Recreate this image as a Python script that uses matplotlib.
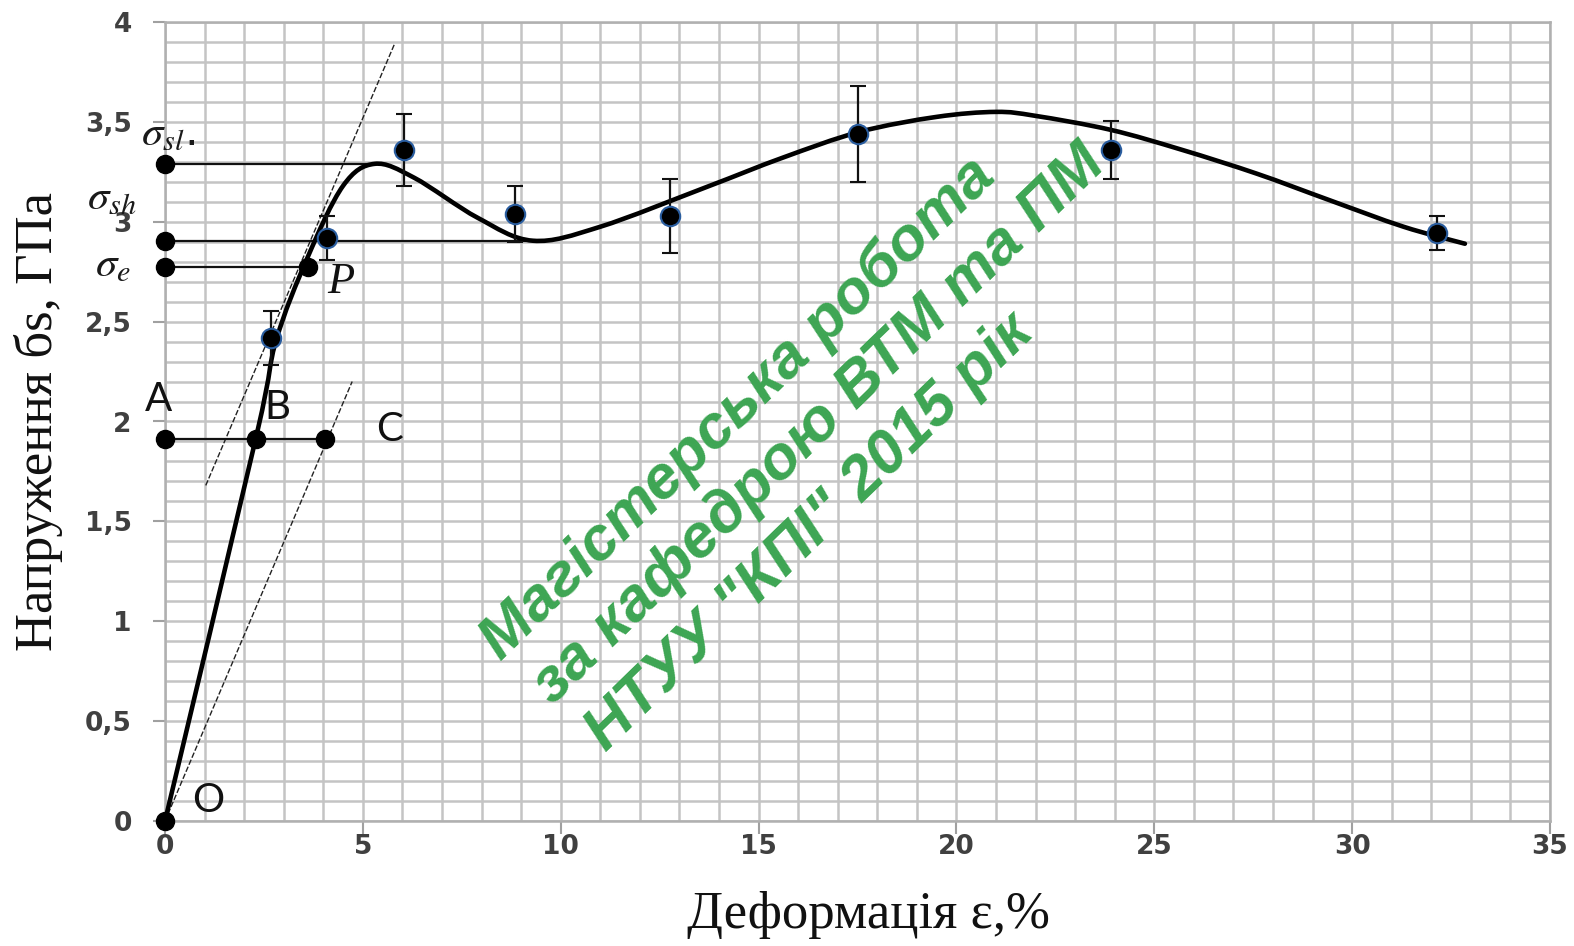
import matplotlib
matplotlib.use("Agg")
import matplotlib.pyplot as plt
from matplotlib.ticker import MultipleLocator, FuncFormatter
from matplotlib.path import Path
from matplotlib.patches import PathPatch

plt.rcParams['mathtext.fontset'] = 'stix'

# ---------------- data ----------------
# knots of the smoothed stress-strain curve
curve_x = [0, 2.3, 2.8, 3.6, 4.5, 5.3, 6.3, 7.9, 9.3, 11.0, 13.7, 15.6, 17.55,
           19.5, 21.0, 22.0, 23.9, 25.7, 27.6, 29.4, 31.3, 32.85]
curve_y = [0, 1.92, 2.4, 2.82, 3.18, 3.29, 3.22, 3.02, 2.905, 2.975, 3.175, 3.32,
           3.45, 3.525, 3.55, 3.53, 3.46, 3.36, 3.24, 3.11, 2.975, 2.89]

# experimental points with error bars
pts_x = [2.68, 4.1, 6.05, 8.85, 12.75, 17.5, 23.9, 32.15]
pts_y = [2.42, 2.92, 3.36, 3.04, 3.03, 3.44, 3.36, 2.945]
pts_err = [0.135, 0.11, 0.18, 0.14, 0.185, 0.24, 0.145, 0.085]

# characteristic stress levels
sigma_sl = 3.29
sigma_sh = 2.905
sigma_e = 2.775
sl_end_x = 5.3
sh_end_x = 9.1
P_x = 3.62
abc_y = 1.91
abc_x = [0, 2.3, 4.05]

# construction lines
tangent_x = [1.03, 5.8]
tangent_y = [1.68, 3.89]
offset_x = [0.0, 4.73]
offset_y = [0.0, 2.2]

xticks = [0, 5, 10, 15, 20, 25, 30, 35]
yticks = [0, 0.5, 1, 1.5, 2, 2.5, 3, 3.5, 4]

xlabel = "Деформація ε,%"
ylabel = "Напруження бs, ГПа"
watermark = ["Магістерська робота", "за кафедрою ВТМ та ПМ", 'НТУУ "КПІ" 2015 рік']

# ---------------- figure ----------------
fig = plt.figure(figsize=(15.74, 9.46), dpi=100)
ax = fig.add_axes([165/1574, 125/946, 1385/1574, 799/946])
ax.set_xlim(0, 35)
ax.set_ylim(0, 4)

grid_c = '#c4c4c4'
ax.xaxis.set_major_locator(MultipleLocator(5))
ax.xaxis.set_minor_locator(MultipleLocator(1))
ax.yaxis.set_major_locator(MultipleLocator(0.5))
ax.yaxis.set_minor_locator(MultipleLocator(0.1))
ax.grid(which='both', color=grid_c, lw=1.8, zorder=0)
ax.set_axisbelow(True)
for s in ax.spines.values():
    s.set_color('#b0b0b0')
    s.set_linewidth(1.8)
ax.tick_params(which='major', direction='out', length=9, width=1.5, color='#a0a0a0',
               labelsize=19, labelcolor='#404040')
ax.tick_params(axis='y', pad=15)
ax.tick_params(axis='x', pad=0)
ax.tick_params(which='minor', length=0)
ax.set_xticks(xticks)
ax.set_yticks(yticks)
ax.yaxis.set_major_formatter(FuncFormatter(lambda v, p: ('%g' % v).replace('.', ',')))
for lab in ax.get_xticklabels() + ax.get_yticklabels():
    lab.set_fontweight('bold')

ax.set_xlabel(xlabel, family='Liberation Serif', fontsize=38, color='#111111',
              va='center', ha='center')
ax.xaxis.set_label_coords(0.508, -0.1176)
ax.set_ylabel(ylabel, family='Liberation Serif', fontsize=38, color='#111111',
              va='center', ha='center')
ax.yaxis.set_label_coords(-0.0915, 0.50)

# construction thin lines
ax.plot(tangent_x, tangent_y, color='#222222', lw=1.0, ls=(0, (4, 1.5)), zorder=2)
ax.plot(offset_x, offset_y, color='#222222', lw=1.0, ls=(0, (4, 1.5)), zorder=2)

# horizontal level lines
ax.plot([0, sl_end_x], [sigma_sl, sigma_sl], color='#111111', lw=1.6, zorder=2)
ax.plot([0, sh_end_x], [sigma_sh, sigma_sh], color='#111111', lw=1.6, zorder=2)
ax.plot([0, P_x], [sigma_e, sigma_e], color='#111111', lw=1.6, zorder=2)
ax.plot([abc_x[0], abc_x[-1]], [abc_y, abc_y], color='#111111', lw=1.6, zorder=2)

# dots on the axis and on the construction
dot_x = [0, 0, 0, P_x] + abc_x + [0]
dot_y = [sigma_sl, sigma_sh, sigma_e, sigma_e] + [abc_y] * 3 + [0]
ax.plot(dot_x, dot_y, 'o', color='black', ms=13, ls='none', zorder=5, clip_on=False)

# smoothed curve through the knots (Excel-style smoothed line, cubic Bezier path)
verts = [(curve_x[0], curve_y[0])]
codes = [Path.MOVETO]
n = len(curve_x)
for i in range(n - 1):
    i0 = max(i - 1, 0)
    i3 = min(i + 2, n - 1)
    c1 = (curve_x[i] + (curve_x[i + 1] - curve_x[i0]) / 6.0,
          curve_y[i] + (curve_y[i + 1] - curve_y[i0]) / 6.0)
    c2 = (curve_x[i + 1] - (curve_x[i3] - curve_x[i]) / 6.0,
          curve_y[i + 1] - (curve_y[i3] - curve_y[i]) / 6.0)
    verts += [c1, c2, (curve_x[i + 1], curve_y[i + 1])]
    codes += [Path.CURVE4] * 3
ax.add_patch(PathPatch(Path(verts, codes), fill=False, edgecolor='black', lw=3.3,
                       capstyle='round', joinstyle='round', zorder=3))

# experimental points
ax.errorbar(pts_x, pts_y, yerr=pts_err, fmt='o', color='black', ms=14,
            mfc='black', mec='#2a5d9f', mew=1.5, ecolor='#111111', elinewidth=1.6,
            capsize=6, capthick=1.6, zorder=4)

# letter labels
lab_kw = dict(family='Lato', fontsize=29, color='#111111', ha='center', va='center',
              clip_on=False, zorder=6)
ax.text(-0.16, 2.11, 'A', **lab_kw)
ax.text(2.83, 2.07, 'B', **lab_kw)
ax.text(5.67, 1.96, 'C', **lab_kw)
ax.text(1.08, 0.105, 'O', **lab_kw)
ax.text(4.43, 2.70, 'P', family='Liberation Serif', style='italic', fontsize=32,
        color='#111111', ha='center', va='center', zorder=6)

sig_kw = dict(fontsize=31, color='#1a1a1a', ha='left', va='baseline', clip_on=False, zorder=6)
ax.text(-0.6, 3.384, r'$\sigma_{sl}$.', **sig_kw)
ax.text(-1.98, 3.06, r'$\sigma_{sh}$', **sig_kw)
ax.text(-1.76, 2.725, r'$\sigma_{e}$', **sig_kw)

# watermark (three left-aligned rotated lines)
wm_kw = dict(family='Liberation Sans', weight='bold', style='italic', fontsize=44.5,
             color='#3da553', rotation=44.2, rotation_mode='anchor', ha='left',
             va='baseline', zorder=7)
starts = [(8.5, 0.80), (9.8, 0.575), (11.15, 0.34)]
for (sx, sy), line in zip(starts, watermark):
    ax.text(sx, sy, line, **wm_kw)

fig.savefig('out.png', dpi=100)
